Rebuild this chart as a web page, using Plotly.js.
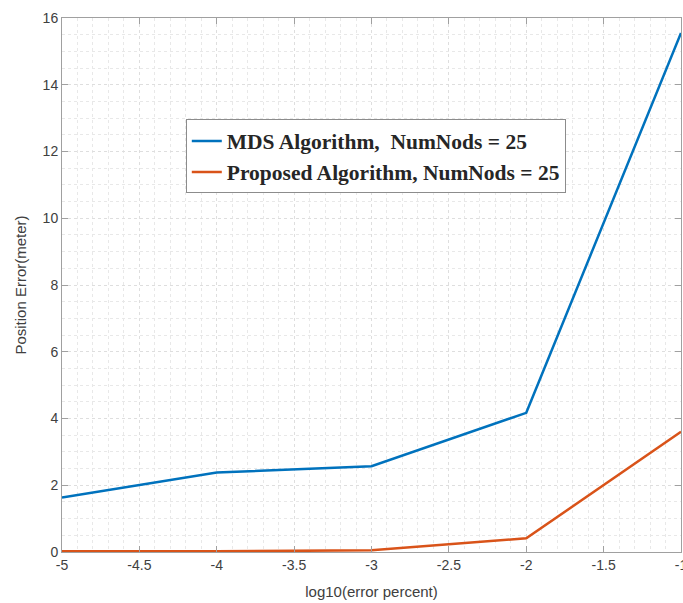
<!DOCTYPE html>
<html>
<head>
<meta charset="utf-8">
<script src="https://cdn.plot.ly/plotly-3.0.1.min.js"></script>
<style>html,body{margin:0;padding:0;background:#fff;}#chart{width:683px;height:603px;}</style>
</head>
<body>
<div id="chart"></div>
<script>
const xValues = [-5, -4, -3, -2, -1];
const mdsError = [1.63, 2.38, 2.57, 4.17, 15.55];
const proposedError = [0.02, 0.02, 0.05, 0.41, 3.6];
const seriesNames = ["MDS Algorithm,&nbsp; NumNods = 25", "Proposed Algorithm, NumNods = 25"];
const xTickVals = [-5, -4.5, -4, -3.5, -3, -2.5, -2, -1.5, -1];
const yTickVals = [0, 2, 4, 6, 8, 10, 12, 14, 16];

const traces = [
  {x: xValues, y: mdsError, name: seriesNames[0], mode: 'lines', line: {color: '#0072BD', width: 2.5}},
  {x: xValues, y: proposedError, name: seriesNames[1], mode: 'lines', line: {color: '#D95319', width: 2.5}}
];
const axisCommon = {
  showline: true, mirror: 'ticks', linecolor: '#a0a0a0', linewidth: 1,
  ticks: 'inside', ticklen: 6, tickcolor: '#a0a0a0',
  showgrid: true, gridcolor: '#dedede', griddash: 'dot', gridwidth: 1,
  zeroline: false, ticklabeloverflow: 'allow',
  tickfont: {family: 'Liberation Sans, Arial, sans-serif', size: 14, color: '#404040'}
};
const layout = {
  width: 683, height: 603,
  margin: {l: 62, r: 2, t: 18, b: 51},
  paper_bgcolor: '#fff', plot_bgcolor: '#fff',
  showlegend: true,
  xaxis: Object.assign({}, axisCommon, {
    range: [-5, -1], tickvals: xTickVals, ticktext: xTickVals.map(String),
    minor: {dtick: 0.1, showgrid: true, gridcolor: '#e8e8e8', griddash: 'dot', gridwidth: 1, ticks: ''},
    title: {text: 'log10(error percent)', font: {family: 'Liberation Sans, Arial, sans-serif', size: 15, color: '#404040'}, standoff: 14}
  }),
  yaxis: Object.assign({}, axisCommon, {
    range: [0, 16], tickvals: yTickVals, ticktext: yTickVals.map(String),
    minor: {dtick: 0.5, showgrid: true, gridcolor: '#e8e8e8', griddash: 'dot', gridwidth: 1, ticks: ''},
    title: {text: 'Position Error(meter)', font: {family: 'Liberation Sans, Arial, sans-serif', size: 15, color: '#404040'}, standoff: 12}
  }),
  legend: {
    x: 0.2, y: 0.81, xanchor: 'left', yanchor: 'top',
    bgcolor: '#fff', bordercolor: '#8c8c8c', borderwidth: 1,
    font: {family: 'Liberation Serif, Times New Roman, serif', size: 21.5, color: '#262626', weight: 'bold'},
    tracegroupgap: 0
  }
};
Plotly.newPlot('chart', traces, layout, {displayModeBar: false, staticPlot: true});
</script>
</body>
</html>
